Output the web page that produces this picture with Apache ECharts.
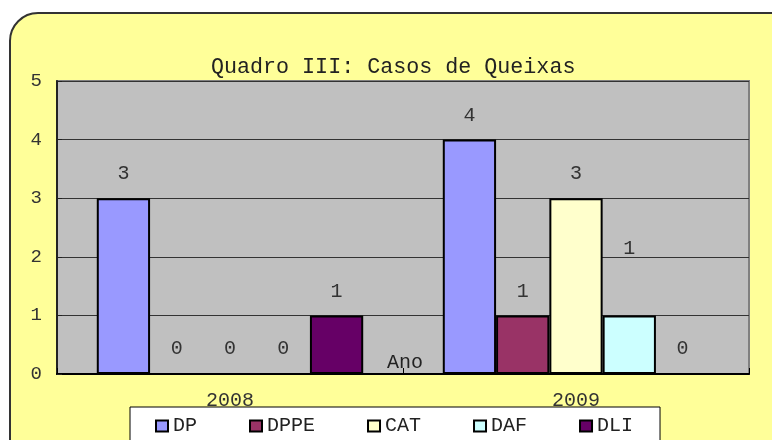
<!DOCTYPE html>
<html>
<head>
<meta charset="utf-8">
<script src="https://cdn.jsdelivr.net/npm/echarts@6/dist/echarts.min.js"></script>
<style>
html,body{margin:0;padding:0;background:#fff;}
#c{width:772px;height:440px;}
</style>
</head>
<body>
<div id="c"></div>
<script>
var categories = ['2008', '2009'];
var seriesNames = ['DP', 'DPPE', 'CAT', 'DAF', 'DLI'];
var dpValues = [3, 4];
var dppeValues = [0, 1];
var catValues = [0, 3];
var dafValues = [0, 1];
var dliValues = [1, 0];
var yTicks = [0, 1, 2, 3, 4, 5];

var seriesValues = [dpValues, dppeValues, catValues, dafValues, dliValues];
var colors = ['#9999FF', '#993366', '#FFFFCC', '#CCFFFF', '#660066'];
var FONT = '"Liberation Mono", "Courier New", monospace';

var chart = echarts.init(document.getElementById('c'));

var series = seriesNames.map(function (name, i) {
  var data = seriesValues[i].map(function (v, j) {
    var item = { value: v };
    // DAF 2009 label sits higher in the reference
    if (name === 'DAF' && j === 1) {
      item.label = { distance: 57 };
    }
    return item;
  });
  return {
    name: name,
    type: 'bar',
    data: data,
    barGap: '0%',
    barCategoryGap: '23%',
    itemStyle: { color: colors[i], borderColor: '#000', borderWidth: 2 },
    label: {
      show: true,
      position: 'top',
      distance: 14,
      color: '#333',
      fontFamily: FONT,
      fontSize: 20
    }
  };
});

chart.setOption({
  backgroundColor: '#ffffff',
  animation: false,
  graphic: [{
    type: 'rect',
    z: -100,
    silent: true,
    shape: { x: 10, y: 13, width: 790, height: 460, r: 28 },
    style: { fill: '#FFFF99', stroke: '#333', lineWidth: 2 }
  }],
  title: {
    text: 'Quadro III: Casos de Queixas',
    left: 206,
    top: 51,
    textStyle: { fontFamily: FONT, fontSize: 21.7, fontWeight: 'normal', color: '#222' }
  },
  legend: {
    data: seriesNames,
    icon: 'rect',
    left: 130,
    top: 407,
    orient: 'horizontal',
    padding: [9, 27, 12, 25],
    itemGap: 52,
    itemWidth: 12,
    itemHeight: 11,
    backgroundColor: '#ffffff',
    borderColor: '#000',
    borderWidth: 1,
    borderRadius: 0,
    textStyle: { fontFamily: FONT, fontSize: 20, color: '#222' }
  },
  grid: {
    left: 57,
    right: 23,
    top: 81,
    bottom: 66,
    show: true,
    backgroundColor: '#C0C0C0',
    borderColor: '#808080',
    borderWidth: 2,
    containLabel: false
  },
  xAxis: {
    type: 'category',
    data: categories,
    name: 'Ano',
    nameLocation: 'middle',
    nameGap: -21,
    nameMoveOverlap: false,
    nameTextStyle: { fontFamily: FONT, fontSize: 20, color: '#222', padding: [0, 0, 0, 4] },
    axisLine: { show: true, lineStyle: { color: '#000', width: 2 } },
    axisTick: { show: true, inside: true, length: 6, lineStyle: { color: '#000' } },
    axisLabel: { margin: 17, fontFamily: FONT, fontSize: 20, color: '#333' },
    splitLine: { show: false }
  },
  yAxis: {
    type: 'value',
    min: yTicks[0],
    max: yTicks[yTicks.length - 1],
    interval: 1,
    axisLine: { show: true, lineStyle: { color: '#222', width: 2 } },
    axisTick: { show: true, inside: true, length: 5, lineStyle: { color: '#222' } },
    axisLabel: { margin: 15, fontFamily: FONT, fontSize: 19, color: '#333' },
    splitLine: { show: true, lineStyle: { color: '#333', width: 1 } }
  },
  series: series
});
</script>
</body>
</html>
